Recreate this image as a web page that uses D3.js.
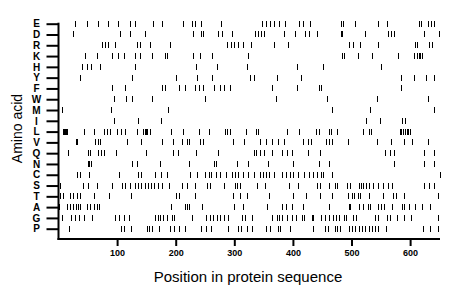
<!DOCTYPE html>
<html>
<head>
<meta charset="utf-8">
<script src="https://cdn.jsdelivr.net/npm/d3@7"></script>
<style>
  html, body { margin: 0; padding: 0; background: #fff; }
  svg { display: block; }
  text { font-family: "Liberation Sans", Arial, sans-serif; fill: #000; }
</style>
</head>
<body>
<svg id="chart" width="460" height="299"></svg>
<script>
// amino acids, top to bottom
const aminoAcids = ["E", "D", "R", "K", "H", "Y", "F", "W", "M", "I", "L", "V", "Q", "N", "C", "S", "T", "A", "G", "P"];
const seqLength = 651;
const xTicks = [100, 200, 300, 400, 500, 600];

// residue positions per amino acid
const posE = [28, 48, 67, 84, 101, 122, 131, 162, 176, 213, 227, 233, 243, 277, 347, 354, 361, 368, 377, 386, 411, 418, 429, 482, 485, 506, 546, 560, 615, 619, 631, 636, 640];
const posD = [25, 105, 122, 147, 229, 243, 247, 273, 279, 296, 336, 340, 345, 350, 384, 404, 421, 427, 441, 482, 484, 523, 563, 567, 573, 624, 650];
const posR = [74, 80, 85, 97, 134, 139, 156, 190, 288, 294, 300, 306, 315, 328, 367, 392, 495, 503, 515, 546, 608, 611, 632, 638];
const posK = [45, 65, 91, 101, 111, 131, 139, 159, 181, 185, 230, 242, 262, 324, 483, 488, 511, 535, 580, 607, 611, 615, 617, 620];
const posH = [40, 48, 56, 71, 130, 235, 270, 321, 407, 451, 551];
const posY = [37, 125, 200, 237, 262, 326, 334, 372, 413, 585, 606, 627, 640];
const posF = [92, 114, 177, 182, 205, 216, 233, 240, 247, 266, 275, 283, 292, 364, 407, 444, 448, 585];
const posW = [94, 115, 126, 159, 250, 371, 458, 543, 630];
const posM = [6, 90, 186, 467, 532, 640];
const posI = [95, 136, 175, 524, 549, 586, 591];
const posL = [7, 8, 9, 10, 11, 13, 15, 44, 61, 77, 82, 88, 100, 106, 113, 134, 145, 147, 149, 151, 156, 192, 212, 239, 256, 284, 288, 293, 320, 337, 341, 390, 411, 439, 444, 461, 465, 475, 520, 529, 533, 582, 585, 588, 591, 594, 597, 600];
const posV = [30, 32, 62, 67, 70, 117, 141, 176, 196, 210, 219, 223, 242, 246, 298, 317, 343, 354, 364, 375, 385, 418, 426, 431, 456, 462, 467, 494, 543, 568, 590, 604, 631];
const posQ = [16, 50, 54, 67, 73, 77, 98, 149, 196, 204, 235, 273, 333, 337, 343, 351, 364, 381, 390, 398, 426, 446, 558, 566, 573, 623, 641];
const posN = [50, 52, 56, 126, 134, 173, 222, 265, 269, 304, 324, 358, 401, 444, 462, 572, 623, 640];
const posC = [31, 37, 52, 103, 135, 141, 165, 175, 185, 225, 236, 250, 256, 261, 269, 275, 286, 296, 301, 307, 314, 324, 334, 343, 349, 354, 360, 368, 381, 388, 395, 401, 408, 419, 428, 435, 441, 448, 452, 466, 651];
const posS = [3, 42, 50, 65, 92, 108, 114, 122, 130, 135, 141, 147, 152, 158, 163, 169, 176, 189, 210, 219, 233, 253, 259, 282, 302, 305, 310, 338, 352, 394, 409, 441, 446, 462, 471, 476, 492, 497, 512, 516, 520, 524, 530, 537, 545, 553, 562, 569, 623, 632, 641];
const posT = [3, 7, 20, 25, 31, 37, 61, 86, 124, 200, 205, 233, 298, 310, 321, 360, 401, 422, 446, 466, 494, 500, 505, 511, 515, 530, 553, 570, 576, 589, 648];
const posA = [1, 14, 20, 25, 30, 34, 36, 48, 54, 60, 65, 69, 192, 216, 219, 223, 245, 300, 315, 355, 381, 388, 398, 418, 462, 496, 498, 512, 520, 528, 532, 546, 550, 556, 569, 587, 590, 598, 608, 620, 634];
const posG = [6, 21, 28, 35, 43, 57, 97, 103, 112, 120, 165, 170, 173, 178, 185, 194, 197, 227, 251, 259, 264, 270, 276, 283, 290, 313, 318, 331, 364, 372, 376, 381, 390, 399, 405, 415, 419, 433, 434, 448, 455, 462, 468, 474, 479, 487, 491, 503, 508, 540, 546, 560, 566, 577, 590, 601, 648];
const posP = [18, 107, 111, 124, 151, 155, 159, 171, 191, 197, 205, 216, 244, 252, 260, 289, 306, 311, 321, 331, 354, 361, 375, 378, 395, 435, 455, 460, 472, 476, 481, 495, 500, 506, 512, 518, 523, 529, 535, 540, 546, 559, 622, 634, 647];

const positions = { E: posE, D: posD, R: posR, K: posK, H: posH, Y: posY, F: posF, W: posW, M: posM, I: posI,
  L: posL, V: posV, Q: posQ, N: posN, C: posC, S: posS, T: posT, A: posA, G: posG, P: posP };

const svg = d3.select("#chart");

const x = d3.scaleLinear().domain([0, seqLength]).range([58.5, 440]);
const y = d3.scalePoint().domain(aminoAcids).range([23.7, 228.7]);
const axisY = 239;

// residue ticks
const marks = [];
aminoAcids.forEach((aa) => positions[aa].forEach((p) => marks.push({ aa, p })));

svg.append("g")
  .attr("shape-rendering", "crispEdges")
  .selectAll("line")
  .data(marks)
  .join("line")
  .attr("x1", (d) => Math.round(x(d.p)) + 0.5)
  .attr("x2", (d) => Math.round(x(d.p)) + 0.5)
  .attr("y1", (d) => y(d.aa) - 3)
  .attr("y2", (d) => y(d.aa) + 3)
  .attr("stroke", "#000")
  .attr("stroke-width", 1);

// y axis
const yAxis = d3.axisLeft(y).tickSize(12).tickPadding(4);
const gy = svg.append("g").attr("transform", "translate(58.5,0)").call(yAxis);
gy.select(".domain").remove();
gy.selectAll(".tick line").attr("stroke", "#000").attr("stroke-width", 2);
gy.selectAll(".tick text")
  .attr("x", -22)
  .attr("text-anchor", "middle")
  .style("font-size", "10px")
  .style("font-weight", "bold")
  .style("font-family", "'Liberation Sans', Arial, sans-serif");
svg.append("line")
  .attr("x1", 58.5).attr("x2", 58.5)
  .attr("y1", y("E") - 1).attr("y2", axisY + 1)
  .attr("stroke", "#000").attr("stroke-width", 2);

// x axis
const xAxis = d3.axisBottom(x).tickValues(xTicks).tickSize(7).tickPadding(4);
const gx = svg.append("g").attr("transform", `translate(0,${axisY})`).call(xAxis);
gx.select(".domain").remove();
gx.selectAll(".tick line").attr("stroke", "#000").attr("stroke-width", 2);
gx.selectAll(".tick text")
  .style("font-size", "9px")
  .style("font-weight", "bold")
  .style("font-family", "'Liberation Sans', Arial, sans-serif");
svg.append("line")
  .attr("x1", 57.5).attr("x2", 440)
  .attr("y1", axisY).attr("y2", axisY)
  .attr("stroke", "#000").attr("stroke-width", 2);

// titles
svg.append("text")
  .attr("x", 248)
  .attr("y", 282)
  .attr("text-anchor", "middle")
  .style("font-size", "15px")
  .text("Position in protein sequence");

svg.append("text")
  .attr("transform", "translate(22,128.5) rotate(-90)")
  .attr("text-anchor", "middle")
  .style("font-size", "14px")
  .text("Amino acid");
</script>
</body>
</html>
